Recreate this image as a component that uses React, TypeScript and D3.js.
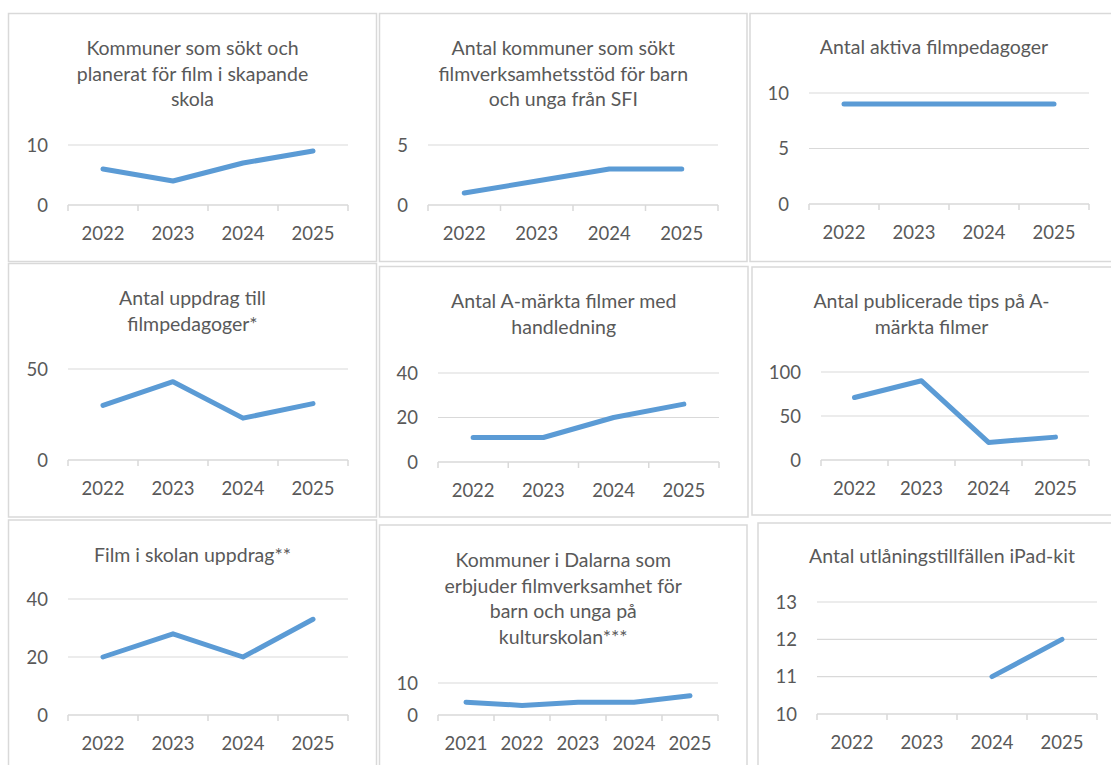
import React from "react";
import * as d3 from "d3";

// ---------- data ----------
const years4: string[] = ["2022", "2023", "2024", "2025"];
const years5: string[] = ["2021", "2022", "2023", "2024", "2025"];

const kommunerSokt: (number | null)[] = [6, 4, 7, 9];
const kommunerSFI: (number | null)[] = [1, 2, 3, 3];
const aktivaPedagoger: (number | null)[] = [9, 9, 9, 9];
const uppdragPedagoger: (number | null)[] = [30, 43, 23, 31];
const aMarktaHandledning: (number | null)[] = [11, 11, 20, 26];
const publiceradeTips: (number | null)[] = [71, 90, 20, 26];
const filmISkolan: (number | null)[] = [20, 28, 20, 33];
const kulturskolan: (number | null)[] = [4, 3, 4, 4, 6];
const ipadKit: (number | null)[] = [null, null, 11, 12];

const ticks1: number[] = [0, 10];
const ticks2: number[] = [0, 5];
const ticks3: number[] = [0, 5, 10];
const ticks4: number[] = [0, 50];
const ticks5: number[] = [0, 20, 40];
const ticks6: number[] = [0, 50, 100];
const ticks7: number[] = [0, 20, 40];
const ticks8: number[] = [0, 10];
const ticks9: number[] = [10, 11, 12, 13];

const titles: string[][] = [
  ["Kommuner som sökt och", "planerat för film i skapande", "skola"],
  ["Antal kommuner som sökt", "filmverksamhetsstöd för barn", "och unga från SFI"],
  ["Antal aktiva filmpedagoger"],
  ["Antal uppdrag till", "filmpedagoger*"],
  ["Antal A-märkta filmer med", "handledning"],
  ["Antal publicerade tips på A-", "märkta filmer"],
  ["Film i skolan uppdrag**"],
  ["Kommuner i Dalarna som", "erbjuder filmverksamhet för", "barn och unga på", "kulturskolan***"],
  ["Antal utlåningstillfällen iPad-kit"],
];

const seriesList = [
  kommunerSokt, kommunerSFI, aktivaPedagoger, uppdragPedagoger,
  aMarktaHandledning, publiceradeTips, filmISkolan, kulturskolan, ipadKit,
];
const categoryList = [years4, years4, years4, years4, years4, years4, years4, years5, years4];
const tickList = [ticks1, ticks2, ticks3, ticks4, ticks5, ticks6, ticks7, ticks8, ticks9];

// ---------- layout ----------
type Box = { x0: number; y0: number; x1: number; y1: number };
const panelBoxes: Box[] = [
  { x0: 8.5, y0: 13.5, x1: 376.5, y1: 261.5 },
  { x0: 379.5, y0: 13.5, x1: 747, y1: 261.5 },
  { x0: 750, y0: 13.5, x1: 1120, y1: 261.5 },
  { x0: 8.5, y0: 263.5, x1: 376.5, y1: 517 },
  { x0: 379.5, y0: 266.5, x1: 748, y1: 517 },
  { x0: 752, y0: 267, x1: 1120, y1: 515 },
  { x0: 8.5, y0: 520, x1: 376.5, y1: 780 },
  { x0: 379.5, y0: 525, x1: 747, y1: 780 },
  { x0: 758, y0: 523, x1: 1120, y1: 780 },
];
const plotBoxes: Box[] = [
  { x0: 68, y0: 145, x1: 348, y1: 205 },
  { x0: 428, y0: 145, x1: 718, y1: 205 },
  { x0: 809, y0: 93, x1: 1089, y1: 204 },
  { x0: 68, y0: 369, x1: 348, y1: 460 },
  { x0: 438, y0: 373, x1: 719, y1: 462 },
  { x0: 821, y0: 372, x1: 1089, y1: 460 },
  { x0: 68, y0: 599, x1: 348, y1: 715 },
  { x0: 438, y0: 683, x1: 718, y1: 715 },
  { x0: 817, y0: 602, x1: 1097, y1: 714 },
];
const titleFirstBaseline: number[] = [55, 55, 54, 305, 308, 308, 562, 567, 563];
const titleCenterX: (number | null)[] = [null, null, 934, null, null, null, null, null, 942];

const FONT = "Lato, 'Open Sans', sans-serif";
const TEXT = "#595959";
const GRID = "#D9D9D9";
const LINE = "#5B9BD5";

function Panel({ i }: { i: number }) {
  const pb = panelBoxes[i];
  const p = plotBoxes[i];
  const cats = categoryList[i];
  const vals = seriesList[i];
  const ticks = tickList[i];
  const x = d3.scaleBand<string>().domain(cats).range([p.x0, p.x1]).padding(0);
  const y = d3
    .scaleLinear()
    .domain([ticks[0], ticks[ticks.length - 1]])
    .range([p.y1, p.y0]);
  const line = d3
    .line<number | null>()
    .defined((d) => d != null)
    .x((_, k) => (x(cats[k]) as number) + x.bandwidth() / 2)
    .y((d) => y(d as number));
  const cx = titleCenterX[i] ?? (pb.x0 + Math.min(pb.x1, 1111)) / 2;
  const boundaries = cats.map((c) => x(c) as number).concat([p.x1]);
  return (
    <g>
      <rect
        x={pb.x0}
        y={pb.y0}
        width={pb.x1 - pb.x0}
        height={pb.y1 - pb.y0}
        fill="#fff"
        stroke={GRID}
        strokeWidth={1.5}
      />
      {titles[i].map((t, k) => (
        <text
          key={k}
          x={cx}
          y={titleFirstBaseline[i] + k * 25.5}
          textAnchor="middle"
          fontFamily={FONT}
          fontSize={19.5}
          fill={TEXT}
        >
          {t}
        </text>
      ))}
      {ticks.map((t) => (
        <g key={t}>
          {t !== ticks[0] && (
            <line x1={p.x0} x2={p.x1} y1={y(t)} y2={y(t)} stroke={GRID} strokeWidth={1.2} />
          )}
          <text
            x={p.x0 - 20}
            y={y(t)}
            dy="0.36em"
            textAnchor="end"
            fontFamily={FONT}
            fontSize={18.5}
            fill={TEXT}
          >
            {t}
          </text>
        </g>
      ))}
      <line x1={p.x0} x2={p.x1} y1={p.y1} y2={p.y1} stroke={GRID} strokeWidth={1.5} />
      {boundaries.map((bx, k) => (
        <line key={k} x1={bx} x2={bx} y1={p.y1} y2={p.y1 + 6} stroke={GRID} strokeWidth={1.5} />
      ))}
      {cats.map((c) => (
        <text
          key={c}
          x={(x(c) as number) + x.bandwidth() / 2}
          y={p.y1 + 35}
          textAnchor="middle"
          fontFamily={FONT}
          fontSize={18.5}
          fill={TEXT}
        >
          {c}
        </text>
      ))}
      <path
        d={line(vals) || ""}
        fill="none"
        stroke={LINE}
        strokeWidth={5}
        strokeLinecap="round"
        strokeLinejoin="round"
      />
    </g>
  );
}

export default function App() {
  return (
    <svg
      width={1111}
      height={765}
      style={{ position: "absolute", left: 0, top: 0, background: "#fff" }}
    >
      <rect x={0} y={0} width={1111} height={765} fill="#fff" />
      {panelBoxes.map((_, i) => (
        <Panel key={i} i={i} />
      ))}
    </svg>
  );
}
